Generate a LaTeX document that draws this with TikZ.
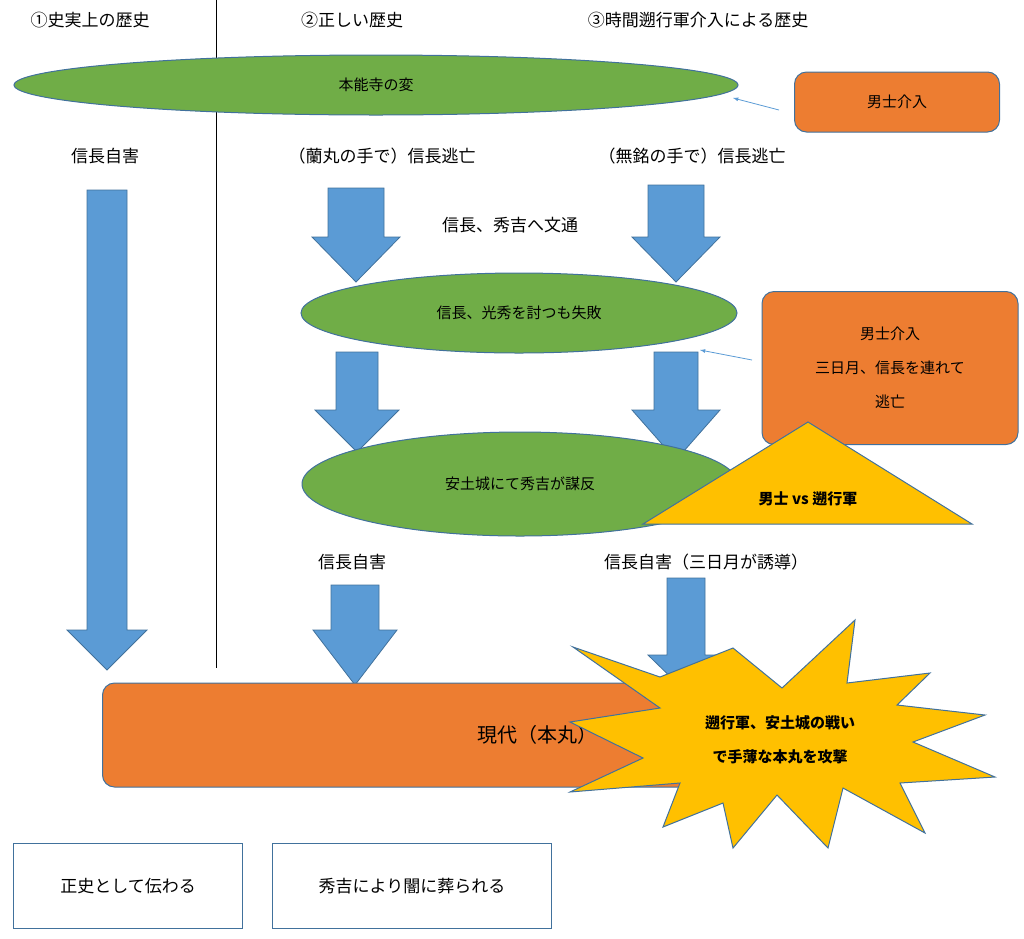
\documentclass[tikz,border=0pt]{standalone}
\usepackage{fontspec}
\setmainfont{Noto Sans CJK JP}
\usetikzlibrary{positioning,shapes.geometric}
\definecolor{grn}{HTML}{70AD47}
\definecolor{org}{HTML}{ED7D31}
\definecolor{ylw}{HTML}{FFC000}
\definecolor{blu}{HTML}{5B9BD5}
\definecolor{edg}{HTML}{41719C}
\tikzset{
  evt/.style={ellipse, fill=grn, draw=edg, line width=1pt, font=\fontsize{15}{18}\selectfont, inner sep=0pt},
  act/.style={rounded corners=12pt, fill=org, draw=edg, line width=1pt, align=center, font=\fontsize{15}{34}\selectfont},
  res/.style={draw=edg, line width=1.5pt, fill=white, minimum width=229pt, minimum height=85pt, font=\fontsize{17}{20}\selectfont},
  lbl/.style={font=\fontsize{17}{20}\selectfont},
  flow/.style={fill=blu, draw=edg, line width=0.8pt},
  hint/.style={draw=blu, line width=0.8pt, -latex}
}
% block arrow: x, top, neck, tip, half shaft, half head
\newcommand{\blockarrow}[6]{%
  \draw[flow] (#1-#5,#2) -- (#1+#5,#2) -- (#1+#5,#3) -- (#1+#6,#3) -- (#1,#4)
    -- (#1-#6,#3) -- (#1-#5,#3) -- cycle;}
\begin{document}
\begin{tikzpicture}[x=1pt,y=-1pt]
\useasboundingbox (0,0) rectangle (1024,938);

% headings
\node[lbl] (h1) at (90,20) {①史実上の歴史};
\node[lbl] (h2) at (352,20) {②正しい歴史};
\node[lbl] (h3) at (698,20) {③時間遡行軍介入による歴史};
\draw[line width=0.8pt] (216,0) -- (216,668);

% top event
\node[evt, minimum width=724pt, minimum height=60pt] (honnoji) at (376,85) {本能寺の変};
\node[act, minimum width=205pt, minimum height=60pt] (int1) at (897,102) {男士介入};
\draw[hint] (int1.west) ++(-15,8) coordinate (c1) (c1) -- (733,98);

\node[lbl] (r1) at (105,156) {信長自害};
\node[lbl] (r2) at (382,156) {（蘭丸の手で）信長逃亡};
\node[lbl] (r3) at (692,156) {（無銘の手で）信長逃亡};
\node[lbl] (letter) at (510,225) {信長、秀吉へ文通};

\blockarrow{107}{190}{630}{670}{20}{40}
\blockarrow{356}{188}{237}{282}{28}{44}
\blockarrow{676}{185}{237}{282}{28}{44}

% middle event
\node[evt, minimum width=436pt, minimum height=80pt] (fail) at (519,313) {信長、光秀を討つも失敗};
\node[act, minimum width=256pt, minimum height=153pt] (int2) at (890,368) {男士介入\\三日月、信長を連れて\\逃亡};
\coordinate (c2) at (752,360);
\draw[hint] (c2) -- (700,350);

\blockarrow{357}{352}{410}{452}{21}{42}
\blockarrow{676}{352}{410}{460}{22}{44}

% lower event
\node[evt, minimum width=436pt, minimum height=104pt] (revolt) at (520,484) {安土城にて秀吉が謀反};
\draw[fill=ylw, draw=edg, line width=1pt] (643,524) -- (972,524) -- (808,422) -- cycle;
\node[font=\bfseries\fontsize{15}{18}\selectfont] (vs) at (808,499) {男士 vs 遡行軍};

\node[lbl] (r4) at (352,562) {信長自害};
\node[lbl] (r5) at (706,562) {信長自害（三日月が誘導）};

\blockarrow{355}{585}{630}{685}{24}{42}
\blockarrow{686}{578}{655}{692}{19}{38}

% present
\node[act, minimum width=640pt, minimum height=104pt, anchor=west, font=\fontsize{20}{24}\selectfont, text width=600pt] (now) at (102,735) {\hspace*{230pt}現代（本丸）};
\draw[fill=ylw, draw=edg, line width=1pt]
  (573,647) -- (660,677) -- (733,648) -- (782,688) -- (855,620) -- (847,683)
  -- (930,673) -- (897,705) -- (985,715) -- (913,742) -- (995,777) -- (900,783)
  -- (925,833) -- (843,788) -- (828,848) -- (777,795) -- (733,848) -- (723,803)
  -- (663,827) -- (680,783) -- (570,792) -- (643,758) -- (570,722) -- (660,708) -- cycle;
\node[align=center, font=\bfseries\fontsize{15}{34}\selectfont] (attack) at (780,740) {遡行軍、安土城の戦い\\で手薄な本丸を攻撃};

% outcomes
\node[res] (o1) at (128,886) {正史として伝わる};
\node[res, minimum width=279pt] (o2) at (412,886) {秀吉により闇に葬られる};
\end{tikzpicture}
\end{document}
